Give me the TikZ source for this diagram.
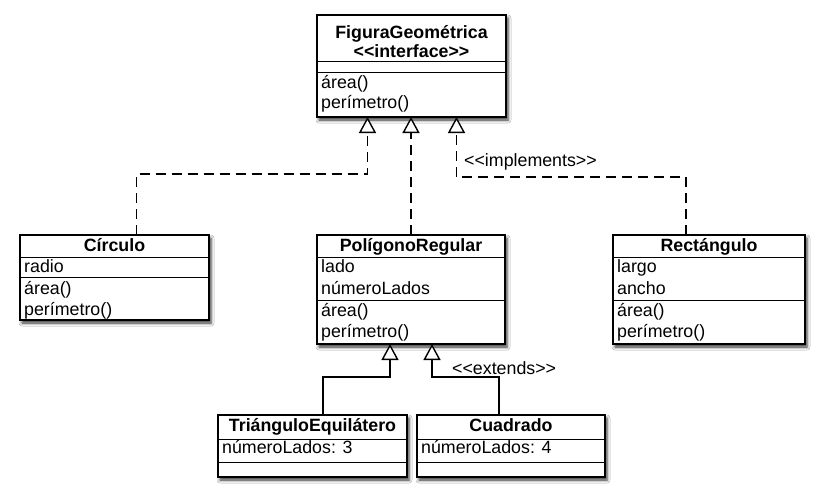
\documentclass[tikz,border=0pt]{standalone}
\usepackage{fontspec}
\setmainfont{Liberation Sans}
\usetikzlibrary{arrows.meta,shadows.blur}
\newcommand{\dlt}{<\kern0pt<}
\newcommand{\dgt}{>\kern0pt>}
\begin{document}
\begin{tikzpicture}[x=1pt,y=-1pt,
  cls/.style={draw, line width=1.3pt, fill=white, inner sep=0pt, outer sep=0pt, anchor=north west,
    blur shadow={shadow xshift=2pt, shadow yshift=-3pt, shadow blur radius=3pt, shadow opacity=80}},
  ttl/.style={font=\fontsize{17.8}{20}\selectfont\bfseries, inner sep=0pt, anchor=base},
  attr/.style={font=\fontsize{17.8}{20}\selectfont, inner sep=0pt, anchor=base west},
  lbl/.style={font=\fontsize{17.8}{20}\selectfont, inner sep=0pt, anchor=base west},
  sepl/.style={line width=0.9pt},
  tipx/.style={-{Triangle[length=16pt, width=17pt, line width=1.4pt, fill=white]}},
  impl/.style={tipx, line width=1.9pt, dash pattern=on 10pt off 6pt},
  ext/.style={tipx, line width=1.9pt}]
\fill[white] (0,0) rectangle (823,493);
\useasboundingbox (0,0) rectangle (823,493);

% FiguraGeometrica
\node[cls, minimum width=189pt, minimum height=102pt] (fig) at (317,15) {};
\draw[sepl] ([yshift=-46pt]fig.north west) -- ([yshift=-46pt]fig.north east);
\draw[sepl] ([yshift=-57pt]fig.north west) -- ([yshift=-57pt]fig.north east);
\node[ttl] (fig-t1) at (411.5,38) {FiguraGeométrica};
\node[ttl] (fig-t2) at (411.5,57) {\dlt interface\dgt};
\node[attr] (fig-m1) at (321,88) {área()};
\node[attr] (fig-m2) at (321,108) {perímetro()};

% Circulo
\node[cls, minimum width=189pt, minimum height=85pt] (circ) at (20,235) {};
\draw[sepl] ([yshift=-22pt]circ.north west) -- ([yshift=-22pt]circ.north east);
\draw[sepl] ([yshift=-42pt]circ.north west) -- ([yshift=-42pt]circ.north east);
\node[ttl] (circ-t) at (114.5,251) {Círculo};
\node[attr] (circ-a1) at (24,272) {radio};
\node[attr] (circ-m1) at (24,294) {área()};
\node[attr] (circ-m2) at (24,315) {perímetro()};

% PoligonoRegular
\node[cls, minimum width=188pt, minimum height=109pt] (poly) at (317,235) {};
\draw[sepl] ([yshift=-22pt]poly.north west) -- ([yshift=-22pt]poly.north east);
\draw[sepl] ([yshift=-65pt]poly.north west) -- ([yshift=-65pt]poly.north east);
\node[ttl] (poly-t) at (411,251) {PolígonoRegular};
\node[attr] (poly-a1) at (321,272) {lado};
\node[attr] (poly-a2) at (321,294) {númeroLados};
\node[attr] (poly-m1) at (321,316) {área()};
\node[attr] (poly-m2) at (321,337) {perímetro()};

% Rectangulo
\node[cls, minimum width=192pt, minimum height=109pt] (rect) at (613,235) {};
\draw[sepl] ([yshift=-22pt]rect.north west) -- ([yshift=-22pt]rect.north east);
\draw[sepl] ([yshift=-65pt]rect.north west) -- ([yshift=-65pt]rect.north east);
\node[ttl] (rect-t) at (709,251) {Rectángulo};
\node[attr] (rect-a1) at (617,272) {largo};
\node[attr] (rect-a2) at (617,294) {ancho};
\node[attr] (rect-m1) at (617,316) {área()};
\node[attr] (rect-m2) at (617,337) {perímetro()};

% TrianguloEquilatero
\node[cls, minimum width=189pt, minimum height=62pt] (tri) at (218,415) {};
\draw[sepl] ([yshift=-24pt]tri.north west) -- ([yshift=-24pt]tri.north east);
\draw[sepl] ([yshift=-47pt]tri.north west) -- ([yshift=-47pt]tri.north east);
\node[ttl] (tri-t) at (312.5,431) {TriánguloEquilátero};
\node[attr] (tri-a1) at (222,453) {númeroLados: 3};

% Cuadrado
\node[cls, minimum width=188pt, minimum height=62pt] (cuad) at (417,415) {};
\draw[sepl] ([yshift=-24pt]cuad.north west) -- ([yshift=-24pt]cuad.north east);
\draw[sepl] ([yshift=-47pt]cuad.north west) -- ([yshift=-47pt]cuad.north east);
\node[ttl] (cuad-t) at (511,431) {Cuadrado};
\node[attr] (cuad-a1) at (421,453) {númeroLados: 4};

% arrow targets
\coordinate (f1) at ([xshift=-44pt]fig.south);
\coordinate (f2) at (fig.south);
\coordinate (f3) at ([xshift=45pt]fig.south);
\coordinate (p1) at ([xshift=-21pt]poly.south);
\coordinate (p2) at ([xshift=21pt]poly.south);

% implements
\draw[impl] ([xshift=22pt]circ.north) |- ([yshift=-57pt]f1) -- (f1);
\draw[impl] (poly.north) -- (poly.north |- f2);
\draw[impl] ([xshift=-23pt]rect.north) |- ([yshift=-60pt]f3) -- (f3);
\node[lbl] (impl-l) at (464,166) {\dlt implements\dgt};

% extends
\draw[ext] ([xshift=10.5pt]tri.north) |- ([yshift=-33pt]p1) -- (p1);
\draw[ext] ([xshift=-12pt]cuad.north) |- ([yshift=-33pt]p2) -- (p2);
\node[lbl] (ext-l) at (452,374) {\dlt extends\dgt};
\end{tikzpicture}
\end{document}
